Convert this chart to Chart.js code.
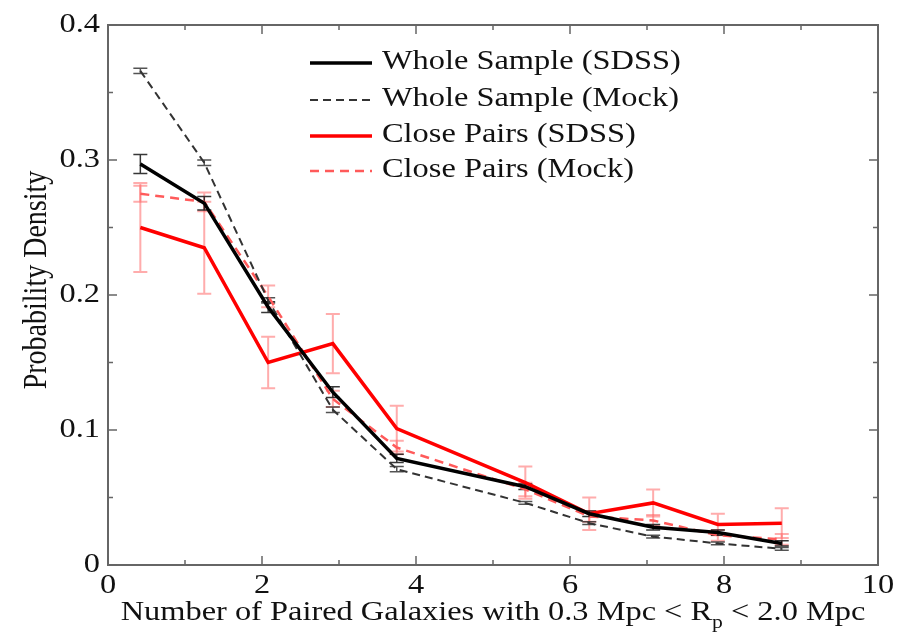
<!DOCTYPE html>
<html>
<head>
<meta charset="utf-8">
<script src="https://cdn.jsdelivr.net/npm/chart.js@4"></script>
<style>
    body { margin: 0; background: #fff; }
    canvas { display: block; }
</style>
</head>
<body>
<canvas id="chart" width="899" height="640"></canvas>
<script>
// bin centres (number of paired galaxies)
const xBins = [0.42, 1.25, 2.08, 2.92, 3.75, 5.42, 6.25, 7.08, 7.92, 8.75]

// probability density per sample
const wholeSdss = [0.297, 0.268, 0.191, 0.128, 0.079, 0.058, 0.038, 0.028, 0.024, 0.016]
const wholeMock = [0.366, 0.298, 0.196, 0.115, 0.071, 0.046, 0.031, 0.021, 0.016, 0.012]
const closeSdss = [0.250, 0.235, 0.150, 0.164, 0.101, 0.061, 0.038, 0.046, 0.030, 0.031]
const closeMock = [0.275, 0.269, 0.199, 0.123, 0.087, 0.056, 0.036, 0.033, 0.022, 0.019]

// error bar half-heights
const wholeSdssErr = [0.007, 0.005, 0.004, 0.004, 0.003, 0.002, 0.002, 0.002, 0.002, 0.002]
const wholeMockErr = [0.002, 0.002, 0.002, 0.002, 0.002, 0.001, 0.001, 0.001, 0.001, 0.001]
const closeSdssErr = [0.033, 0.034, 0.019, 0.022, 0.017, 0.012, 0.012, 0.010, 0.008, 0.011]
const closeMockErr = [0.006, 0.007, 0.008, 0.006, 0.005, 0.005, 0.004, 0.004, 0.004, 0.004]

const seriesLabels = ['Whole Sample (SDSS)', 'Whole Sample (Mock)', 'Close Pairs (SDSS)', 'Close Pairs (Mock)']
const xTicks = [0, 2, 4, 6, 8, 10]
const yTicks = [0, 0.1, 0.2, 0.3, 0.4]

const serif = "'Liberation Serif', 'Times New Roman', serif"
const textColor = '#111'
const FONT = 27
const STRETCH = 1.2   // the original text is a bit wider than plain Times

function points(ys) {
    return xBins.map((x, i) => ({ x: x, y: ys[i] }))
}

// text drawn with a horizontal stretch, align = left / center / right
function stretchedText(ctx, text, x, y, align, size) {
    ctx.save()
    ctx.font = size + 'px ' + serif
    const w = ctx.measureText(text).width * STRETCH
    let left = x
    if (align === 'center') left = x - w / 2
    if (align === 'right') left = x - w
    ctx.translate(left, y)
    ctx.scale(STRETCH, 1)
    ctx.textAlign = 'left'
    ctx.fillText(text, 0, 0)
    ctx.restore()
    return w
}

function textWidth(ctx, text, size) {
    ctx.save()
    ctx.font = size + 'px ' + serif
    const w = ctx.measureText(text).width * STRETCH
    ctx.restore()
    return w
}

const errors = [wholeSdssErr, wholeMockErr, closeSdssErr, closeMockErr]
const errColors = ['rgba(20,20,20,0.85)', 'rgba(40,40,40,0.8)', 'rgba(255,90,90,0.5)', 'rgba(255,90,90,0.5)']

// error bars drawn under the lines
const errorBars = {
    id: 'errorBars',
    beforeDatasetsDraw(chart) {
        const ctx = chart.ctx
        const xs = chart.scales.x
        const ys = chart.scales.y
        ctx.save()
        ;[2, 3, 1, 0].forEach(d => {
            const data = chart.data.datasets[d].data
            ctx.strokeStyle = errColors[d]
            ctx.lineWidth = d >= 2 ? 2 : 1.5
            data.forEach((p, i) => {
                const px = xs.getPixelForValue(p.x)
                const top = ys.getPixelForValue(p.y + errors[d][i])
                const bot = ys.getPixelForValue(p.y - errors[d][i])
                ctx.beginPath()
                ctx.moveTo(px, top); ctx.lineTo(px, bot)
                ctx.moveTo(px - 7, top); ctx.lineTo(px + 7, top)
                ctx.moveTo(px - 7, bot); ctx.lineTo(px + 7, bot)
                ctx.stroke()
            })
        })
        ctx.restore()
    }
}

// box frame with inward ticks on every side, labels, titles and legend
const frame = {
    id: 'frame',
    afterDraw(chart) {
        const ctx = chart.ctx
        const a = chart.chartArea
        const xs = chart.scales.x
        const ys = chart.scales.y
        ctx.save()
        ctx.strokeStyle = '#666'
        ctx.lineWidth = 2
        ctx.strokeRect(a.left, a.top, a.right - a.left, a.bottom - a.top)
        ctx.lineWidth = 1.5
        ctx.beginPath()
        for (let v = 0; v <= 10; v += 1) {
            const px = xs.getPixelForValue(v)
            const len = v % 2 === 0 ? 9 : 5
            ctx.moveTo(px, a.bottom); ctx.lineTo(px, a.bottom - len)
            ctx.moveTo(px, a.top); ctx.lineTo(px, a.top + len)
        }
        for (let k = 0; k <= 8; k++) {
            const py = ys.getPixelForValue(k * 0.05)
            const len = k % 2 === 0 ? 9 : 5
            ctx.moveTo(a.left, py); ctx.lineTo(a.left + len, py)
            ctx.moveTo(a.right, py); ctx.lineTo(a.right - len, py)
        }
        ctx.stroke()

        ctx.fillStyle = textColor
        ctx.textBaseline = 'middle'

        // tick labels
        xTicks.forEach(v => {
            stretchedText(ctx, String(v), xs.getPixelForValue(v), a.bottom + 21, 'center', FONT)
        })
        yTicks.forEach(v => {
            stretchedText(ctx, String(v), a.left - 8, ys.getPixelForValue(v), 'right', FONT)
        })

        // y title
        ctx.save()
        ctx.translate(37, 280)
        ctx.rotate(-Math.PI / 2)
        ctx.scale(1, STRETCH)
        ctx.textAlign = 'center'
        ctx.font = '28px ' + serif
        ctx.fillText('Probability Density', 0, 0)
        ctx.restore()

        // x title with subscript p
        const p1 = 'Number of Paired Galaxies with 0.3 Mpc < R'
        const p2 = ' < 2.0 Mpc'
        const w1 = textWidth(ctx, p1, FONT)
        const ws = textWidth(ctx, 'p', 18)
        const w2 = textWidth(ctx, p2, FONT)
        const x0 = 493 - (w1 + ws + w2) / 2
        stretchedText(ctx, p1, x0, 613, 'left', FONT)
        stretchedText(ctx, 'p', x0 + w1, 623, 'left', 18)
        stretchedText(ctx, p2, x0 + w1 + ws, 613, 'left', FONT)

        // legend
        const rows = [63, 100, 136, 171]
        chart.data.datasets.forEach((ds, i) => {
            ctx.strokeStyle = ds.borderColor
            ctx.lineWidth = ds.borderWidth
            ctx.setLineDash(ds.borderDash || [])
            ctx.beginPath()
            ctx.moveTo(310, rows[i]); ctx.lineTo(372, rows[i])
            ctx.stroke()
            ctx.setLineDash([])
            ctx.fillStyle = textColor
            stretchedText(ctx, ds.label, 382, rows[i] - 1, 'left', FONT)
        })
        ctx.restore()
    }
}

const datasets = [
    { label: seriesLabels[0], data: points(wholeSdss), borderColor: '#000', borderWidth: 3.5 },
    { label: seriesLabels[1], data: points(wholeMock), borderColor: '#333', borderWidth: 2, borderDash: [8, 5] },
    { label: seriesLabels[2], data: points(closeSdss), borderColor: '#ff0000', borderWidth: 3.5 },
    { label: seriesLabels[3], data: points(closeMock), borderColor: '#ff5a5a', borderWidth: 2.5, borderDash: [9, 6] }
].map(d => Object.assign(d, { pointRadius: 0, fill: false, tension: 0 }))

new Chart(document.getElementById('chart'), {
    type: 'line',
    data: { datasets: datasets },
    options: {
        responsive: false,
        animation: false,
        layout: { padding: { top: 25, right: 21, left: 0, bottom: 0 } },
        plugins: { legend: { display: false }, tooltip: { enabled: false } },
        scales: {
            x: {
                type: 'linear', min: 0, max: 10,
                grid: { display: false }, border: { display: false },
                afterBuildTicks: s => { s.ticks = xTicks.map(v => ({ value: v })) },
                afterFit: s => { s.height = 75 },
                ticks: { display: false }
            },
            y: {
                type: 'linear', min: 0, max: 0.4,
                grid: { display: false }, border: { display: false },
                afterBuildTicks: s => { s.ticks = yTicks.map(v => ({ value: v })) },
                afterFit: s => { s.width = 108 },
                ticks: { display: false }
            }
        }
    },
    plugins: [errorBars, frame]
})
</script>
</body>
</html>
